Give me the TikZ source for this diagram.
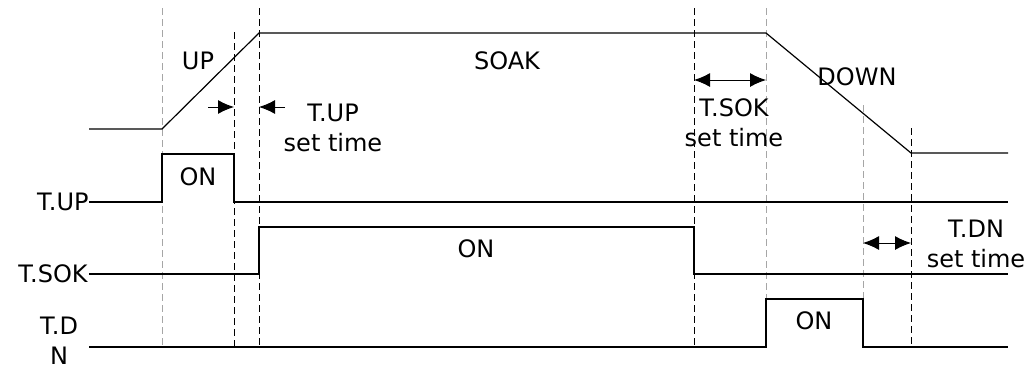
\documentclass[tikz,border=0pt]{standalone}
\usepackage{fontspec}
\setmainfont{DejaVu Sans}
\usetikzlibrary{arrows.meta}

\begin{document}
\begin{tikzpicture}[x=0.5pt,y=-0.5pt,
    wave/.style={line width=0.6pt},
    guide/.style={line width=0.5pt, dash pattern=on 3.5pt off 2pt},
    lbl/.style={font=\fontsize{12}{15}\selectfont, inner sep=0pt, align=center},
    span/.style={line width=0.5pt, -{Latex[length=8pt,width=7pt]}},
    spans/.style={line width=0.5pt, {Latex[length=8pt,width=7pt]}-{Latex[length=8pt,width=7pt]}}]
    \useasboundingbox (0,0) rectangle (1032,371);
    % time marks
    \draw[guide,gray!70] (162,8) -- (162,347);
    \draw[guide] (234,32) -- (234,347);
    \draw[guide] (259,8) -- (259,347);
    \draw[guide] (694,8) -- (694,347);
    \draw[guide,gray!70] (766,8) -- (766,347);
    \draw[guide,gray!70] (863,105) -- (863,347);
    \draw[guide] (911,128) -- (911,347);
    % temperature profile
    \draw[wave] (89,129) -- (162,129) -- (259,33) -- (766,33) -- (911,153) -- (1008,153);
    \node[lbl] (up) at (198,61) {UP};
    \node[lbl] (soak) at (507,61) {SOAK};
    \node[lbl] (down) at (857,77) {DOWN};
    % outputs
    \node[lbl,anchor=east] (tup) at (89,202) {T.UP};
    \draw[wave] (tup.east) -- (162,202) -- (162,154) -- (234,154) -- (234,202) -- (1008,202);
    \node[lbl] (onup) at (198,177) {ON};
    \node[lbl,anchor=east] (tsok) at (88,274) {T.SOK};
    \draw[wave] (89,274) -- (259,274) -- (259,227) -- (694,227) -- (694,274) -- (1008,274);
    \node[lbl] (onsok) at (476,249) {ON};
    \node[lbl] (tdn) at (59,341) {T.D\\N};
    \draw[wave] (89,347) -- (766,347) -- (766,299) -- (863,299) -- (863,347) -- (1008,347);
    \node[lbl] (ondn) at (814,321) {ON};
    % set times
    \coordinate (ua) at (208,107);
    \coordinate (ub) at (234,107);
    \coordinate (uc) at (259,107);
    \coordinate (ud) at (285,107);
    \draw[span] (ua) -- (ub);
    \draw[span] (ud) -- (uc);
    \node[lbl] (uptime) at (333,128) {T.UP\\set time};
    \coordinate (sa) at (694,80);
    \coordinate (sb) at (766,80);
    \draw[spans] (sa) -- (sb);
    \node[lbl] (soktime) at (734,123) {T.SOK\\set time};
    \coordinate (da) at (863,243);
    \coordinate (db) at (911,243);
    \draw[spans] (da) -- (db);
    \node[lbl] (dntime) at (976,244) {T.DN\\set time};
\end{tikzpicture}
\end{document}
